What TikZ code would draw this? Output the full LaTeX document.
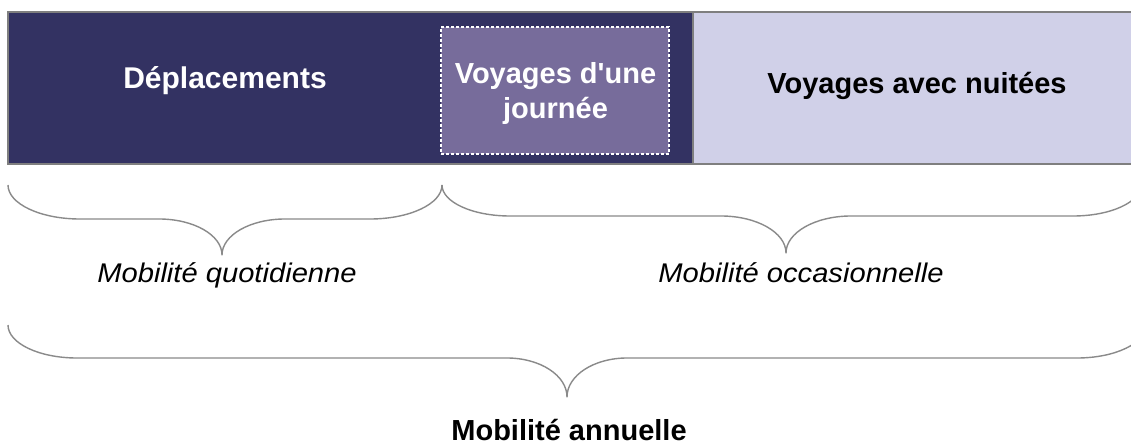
\documentclass[tikz,border=0pt]{standalone}
\usepackage{fontspec}
\setmainfont{Liberation Sans}
\newfontfamily\widesans{Liberation Sans}[FakeStretch=1.08]

\definecolor{navy}{HTML}{333262}
\definecolor{lavender}{HTML}{776C9B}
\definecolor{pale}{HTML}{D0D0E8}
\definecolor{framegray}{HTML}{7F7F7F}
\definecolor{bracegray}{HTML}{8A8A8A}

% Curly brace: #1 left end x, #2 tip x, #3 right end x, #4 end y,
% #5 y of the straight parts, #6 tip y, #7 width of end curves, #8 width of tip curves
\newcommand{\curlybrace}[8]{%
  \draw[bracestroke]
    (#1,#4) .. controls (#1,{#4+0.552*(#5-#4)}) and ({#1+0.448*#7},#5) .. ({#1+#7},#5)
    -- ({#2-#8},#5) .. controls ({#2-0.448*#8},#5) and (#2,{#5+0.448*(#6-#5)}) .. (#2,#6)
    .. controls (#2,{#5+0.448*(#6-#5)}) and ({#2+0.448*#8},#5) .. ({#2+#8},#5)
    -- ({#3-#7},#5) .. controls ({#3-0.448*#7},#5) and (#3,{#4+0.552*(#5-#4)}) .. (#3,#4);
}

\begin{document}
\begin{tikzpicture}[x=1pt, y=-1pt,
  bracestroke/.style={draw=bracegray, line width=1.4pt, line join=round},
  boxframe/.style={draw=framegray, line width=1.6pt},
  boxtext/.style={font=\fontsize{30}{36}\selectfont\bfseries, inner sep=0pt, anchor=base},
  dashbox/.style={fill=lavender, draw=white, line width=1.1pt, dash pattern=on 3pt off 2pt,
    minimum width=228pt, minimum height=127pt, inner sep=0pt},
  bracelabel/.style={font=\widesans\itshape\fontsize{27}{32}\selectfont, inner sep=0pt, anchor=base},
  totallabel/.style={font=\fontsize{29}{35}\selectfont\bfseries, inner sep=0pt, anchor=base}
]
\useasboundingbox (0,0) rectangle (1131,446);
\fill[white] (0,0) rectangle (1131,446);
\begin{scope}
\clip (0,0) rectangle (1131,446);

% top band: daily trips (dark) and trips with overnight stays (light)
\fill[navy] (8,12) rectangle (693,164);
\fill[pale] (693,12) rectangle (1140,164);
\draw[boxframe] (1140,12) -- (8,12) -- (8,164) -- (1140,164);
\draw[boxframe] (693,12) -- (693,164);

\node[dashbox] (jour) at (555,90.5) {};

\node[boxtext, text=white] (depl) at (225,89) {Déplacements};
\node[boxtext, text=white, align=center, anchor=center,
      font=\fontsize{29}{35.7}\selectfont\bfseries] (jourlbl) at (555.5,93.4) {Voyages d\textquotesingle une\\journée};
\node[boxtext, text=black, font=\fontsize{29}{35}\selectfont\bfseries] (nuit) at (917,94) {Voyages avec nuitées};

% braces grouping the band
\curlybrace{8}{222}{442}{185}{219}{255}{72}{63}
\curlybrace{442}{786}{1141}{185}{216}{253}{68}{65}
\curlybrace{8}{567}{1146}{325}{358}{397}{69}{60}
\end{scope}

\node[bracelabel] (quot) at (227,282) {Mobilité quotidienne};
\node[bracelabel] (occa) at (801,282) {Mobilité occasionnelle};
\node[totallabel] (annu) at (569,440) {Mobilité annuelle};
\end{tikzpicture}
\end{document}
